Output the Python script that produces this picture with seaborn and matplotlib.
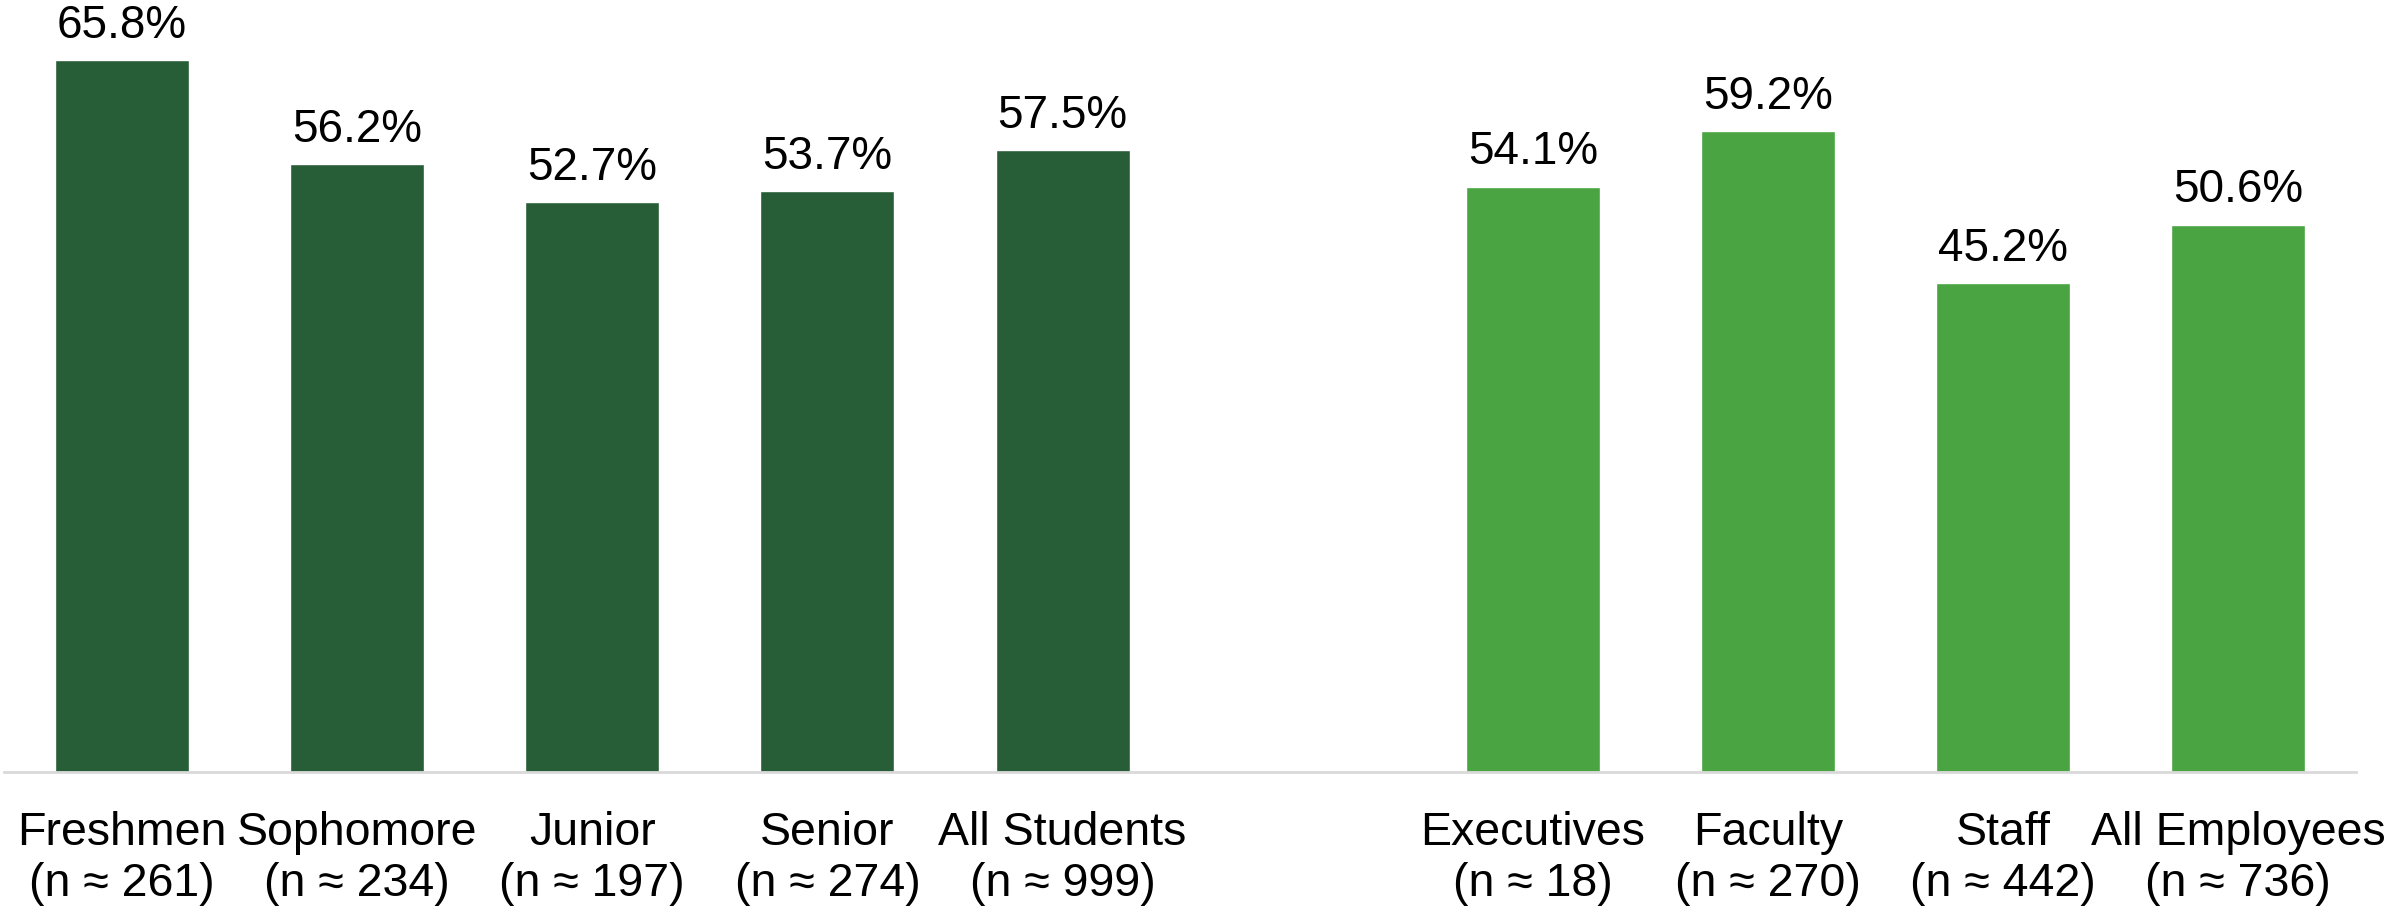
import pandas as pd
import matplotlib
matplotlib.use('Agg')
import matplotlib.pyplot as plt
import seaborn as sns

# ---------- Data ----------
student_groups = ['Freshmen', 'Sophomore', 'Junior', 'Senior', 'All Students']
student_pct = [65.8, 56.2, 52.7, 53.7, 57.5]
student_n = [261, 234, 197, 274, 999]

employee_groups = ['Executives', 'Faculty', 'Staff', 'All Employees']
employee_pct = [54.1, 59.2, 45.2, 50.6]
employee_n = [18, 270, 442, 736]

gap = ' '
order = student_groups + [gap] + employee_groups

df = pd.DataFrame({
    'group': student_groups + employee_groups,
    'pct': student_pct + employee_pct,
    'n': student_n + employee_n,
    'kind': ['Students'] * len(student_groups) + ['Employees'] * len(employee_groups),
})

colors = {'Students': '#275E38', 'Employees': '#49A441'}

# ---------- Plot ----------
sns.set_theme(style='white')
plt.rcParams['font.family'] = ['Liberation Sans', 'DejaVu Sans']

fig = plt.figure(figsize=(23.94, 9.13), dpi=100)
ax = fig.add_axes([0.00184, 0.1544, 0.98226, 0.8296])

sns.barplot(data=df, x='group', y='pct', hue='kind', order=order,
            palette=colors, dodge=False, width=0.57, legend=False,
            saturation=1, ax=ax)

ax.set_ylim(0, 70)
ax.set_xlim(-0.5, len(order) - 0.5)

# value labels
for container in ax.containers:
    for bar in container:
        h = bar.get_height()
        if pd.isna(h):
            continue
        ax.annotate(f'{h:.1f}%', (bar.get_x() + bar.get_width() / 2, h),
                    xytext=(0, 16), textcoords='offset points',
                    ha='center', va='baseline', fontsize=33, color='black')

# two-line category labels
n_lookup = dict(zip(df['group'], df['n']))
labels = [f'{g}\n(n \u2248 {n_lookup[g]})' if g in n_lookup else '' for g in order]
ax.set_xticks(range(len(order)))
ax.set_xticklabels(labels, fontsize=33.5, color='black')
ax.tick_params(axis='x', length=0, pad=28)

ax.set_xlabel('')
ax.set_ylabel('')
ax.set_yticks([])
for side in ['top', 'right', 'left']:
    ax.spines[side].set_visible(False)
ax.spines['bottom'].set_color('#D9D9D9')
ax.spines['bottom'].set_linewidth(2)

plt.savefig('out.png', dpi=100)
plt.close()
